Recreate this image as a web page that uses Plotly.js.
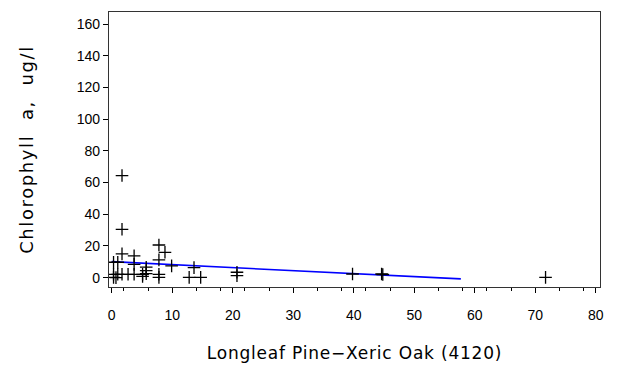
<!DOCTYPE html>
<html>
<head>
<meta charset="utf-8">
<script src="https://cdn.plot.ly/plotly-3.0.1.min.js"></script>
<style>
html,body{margin:0;padding:0;background:#fff;}
#chart{width:619px;height:368px;}
.g-xtitle text{letter-spacing:0.8px;}
.g-ytitle text{letter-spacing:1.6px;}
</style>
</head>
<body>
<div id="chart"></div>
<script>
// Scatter observations: forest cover % (Longleaf Pine-Xeric Oak) vs Chlorophyll a
const coverPct = [1.7, 1.7, 1.7, 3.7, 7.8, 8.8, 7.8, 0.3, 1.0, 3.7, 9.9, 5.7, 5.7, 13.6,
  0.3, 1.0, 1.7, 2.7, 3.7, 5.1, 5.7, 7.8, 0.3, 0.7, 5.1, 7.8, 12.8, 14.7,
  20.7, 20.7, 39.8, 44.6, 44.8, 71.7];
const chlA = [64.4, 30.5, 15.0, 13.8, 20.6, 16.0, 11.2, 9.7, 9.7, 8.4, 7.4, 6.6, 4.4, 6.3,
  2.1, 2.1, 2.1, 2.1, 2.1, 2.1, 2.5, 2.1, 0.2, 0.0, 0.8, 0.2, 0.2, 0.2,
  3.4, 1.3, 2.3, 2.3, 2.0, 0.2];
// Fitted trend line
const fitX = [0.0, 57.7];
const fitY = [10.1, -0.8];
// Axis ticks
const xTicks = [0, 10, 20, 30, 40, 50, 60, 70, 80];
const yTicks = [0, 20, 40, 60, 80, 100, 120, 140, 160];

const font = 'Liberation Sans, Arial, sans-serif';
const titleFont = 'DejaVu Sans, sans-serif';
const data = [
  {x: fitX, y: fitY, type: 'scatter', mode: 'lines',
   line: {color: '#0000ff', width: 1.6}, hoverinfo: 'skip'},
  {x: coverPct, y: chlA, type: 'scatter', mode: 'markers',
   marker: {symbol: 'cross-thin-open', size: 9, color: '#000', line: {color: '#000', width: 1.3}}}
];
const layout = {
  width: 619, height: 368,
  margin: {l: 109, r: 19, t: 12, b: 81},
  paper_bgcolor: '#fff', plot_bgcolor: '#fff',
  showlegend: false,
  font: {family: font, color: '#000', size: 14},
  xaxis: {
    range: [-0.45, 80.7], tickvals: xTicks, ticktext: xTicks.map(String),
    showgrid: false, zeroline: false, showline: true, mirror: true,
    linecolor: '#333', linewidth: 1.2,
    ticks: 'outside', ticklen: 5, tickcolor: '#000', tickwidth: 1,
    ticklabelstandoff: 10,
    minor: {dtick: 4, tick0: 2, ticks: 'outside', ticklen: 3, tickcolor: '#000', showgrid: false},
    tickfont: {size: 14, family: font},
    title: {text: 'Longleaf Pine\u2212Xeric Oak (4120)', font: {size: 17, family: titleFont}, standoff: 25}
  },
  yaxis: {
    range: [-5.9, 167.6], tickvals: yTicks, ticktext: yTicks.map(String),
    showgrid: false, zeroline: false, showline: true, mirror: true,
    linecolor: '#333', linewidth: 1.2,
    ticks: 'outside', ticklen: 5, tickcolor: '#000', tickwidth: 1,
    tickfont: {size: 14, family: font},
    title: {text: 'Chlorophyll\u00a0\u00a0a,\u00a0\u00a0ug/l', font: {size: 18, family: titleFont}, standoff: 38}
  }
};
Plotly.newPlot('chart', data, layout, {displayModeBar: false, staticPlot: true});
</script>
</body>
</html>
